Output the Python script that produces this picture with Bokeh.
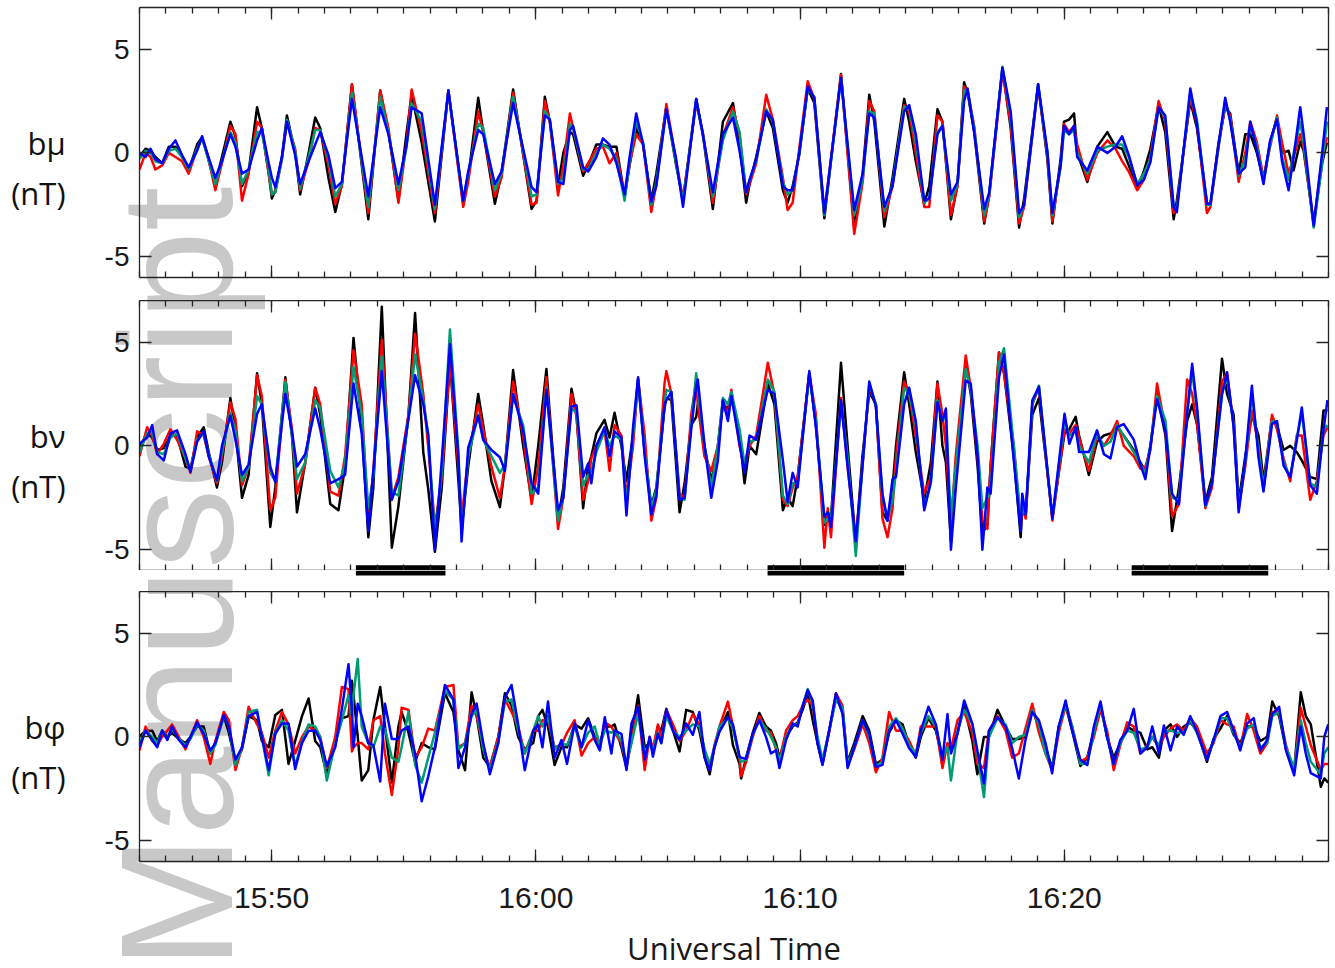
import math
from bokeh.plotting import figure
from bokeh.models import Range1d, FixedTicker, LinearAxis, Div
from bokeh.layouts import column
from bokeh.embed import file_html
from bokeh.resources import INLINE

# ---------------- data (time in minutes after 15:45 UT, field in nT) ----------------
t_mu = [
0.00, 0.23, 0.42, 0.60, 0.86, 1.11, 1.36, 1.61, 1.86, 2.18,
2.37, 2.56, 2.87, 3.12, 3.44, 3.63, 3.88, 4.13, 4.45, 4.63,
4.89, 5.01, 5.14, 5.39, 5.58, 5.89, 6.08, 6.40, 6.65, 6.84,
7.15, 7.41, 7.66, 8.04, 8.66, 9.11, 9.42, 9.80, 10.11, 10.30,
10.68, 11.18, 11.69, 12.25, 12.44, 12.82, 13.01, 13.45, 13.70, 14.14,
14.84, 15.03, 15.34, 15.53, 15.84, 16.04, 16.29, 16.41, 16.79, 16.98,
17.29, 17.54, 17.79, 18.05, 18.36, 18.55, 18.80, 19.06, 19.37, 19.56,
19.94, 20.31, 20.57, 21.07, 21.32, 21.70, 22.08, 22.46, 22.71, 22.96,
23.09, 23.34, 23.72, 23.97, 24.35, 24.53, 24.72, 24.97, 25.29, 25.54,
25.92, 26.55, 27.05, 27.37, 27.62, 27.81, 28.19, 28.50, 28.94, 29.13,
29.38, 29.70, 29.89, 30.20, 30.39, 30.71, 30.96, 31.21, 31.34, 31.59,
31.97, 32.16, 32.66, 32.97, 33.29, 33.48, 34.01, 34.36, 34.55, 34.86,
34.99, 35.18, 35.37, 35.49, 35.87, 36.25, 36.63, 36.94, 37.19, 37.44,
37.76, 38.01, 38.26, 38.57, 38.82, 39.14, 39.26, 39.77, 40.02, 40.40,
40.53, 40.84, 41.09, 41.28, 41.60, 41.85, 42.04, 42.29, 42.54, 42.79,
43.05, 43.24, 43.49, 43.68, 43.93, 44.06, 44.44, 44.76, 44.94]
bmu_black = [
-0.2, 0.2, 0.1, -0.2, -0.5, 0.3, 0.3, -0.2, -0.85, 0.4,
0.75, -0.1, -1.5, -0.2, 1.5, 0.8, -1.6, -0.9, 2.2, 1.2,
-1.0, -2.2, -1.8, -0.2, 1.8, 0.0, -2.0, 0.0, 1.7, 1.2,
-1.2, -2.85, -1.5, 3.3, -3.2, 3.0, 1.0, -2.3, 1.0, 2.8,
0.5, -3.3, 3.0, -2.4, -1.2, 2.65, 1.0, -2.45, -1.0, 3.05,
-2.7, -2.3, 2.7, 1.5, -1.6, 0.0, 1.0, 0.9, -1.1, -0.6,
0.4, 0.4, 0.3, 0.3, -2.1, -0.6, 1.2, 0.4, -2.3, -1.0,
2.2, -0.6, -2.3, 2.6, 0.9, -2.7, 1.5, 2.4, 0.4, -2.4,
-1.5, -0.2, 2.0, 1.2, -1.8, -2.4, -1.6, -0.1, 3.1, 2.4,
-3.15, 3.8, -3.6, -1.0, 2.8, 1.5, -3.55, -1.2, 2.6, 1.5,
-0.4, -2.45, -1.6, 2.1, 1.5, -3.2, -1.5, 3.4, 2.9, 1.0,
-3.4, -2.0, 4.1, 1.2, -3.6, -2.2, 3.3, -0.3, -3.4, -0.3,
1.5, 1.6, 1.9, 0.0, -1.4, 0.3, 1.0, 0.3, 0.2, -0.6,
-1.7, -0.9, 0.2, 2.3, 1.0, -3.2, -2.3, 2.5, 1.2, -2.4,
-2.5, 0.5, 2.2, 1.9, -1.0, 0.9, 0.9, 0.0, -1.3, 0.5,
1.7, 0.0, 0.1, -0.85, 0.55, 0.1, -3.4, -0.5, 0.5]
bmu_red = [
-0.8, 0.0, -0.2, -0.8, -0.6, 0.0, -0.2, -0.4, -1.0, 0.2,
0.7, 0.0, -1.8, -0.5, 1.3, 0.9, -2.3, -1.0, 1.5, 1.2,
-1.0, -2.0, -1.9, -0.3, 1.5, 0.2, -1.8, -0.4, 1.2, 1.1,
-0.6, -2.45, -1.6, 3.3, -2.9, 3.0, 1.2, -2.4, 0.5, 3.05,
1.0, -2.9, 3.0, -2.6, -1.4, 2.0, 1.0, -2.1, -1.2, 2.9,
-2.5, -2.4, 2.5, 1.5, -2.05, -0.6, 1.9, 1.2, -0.9, -0.5,
0.2, 0.3, -0.5, 0.0, -2.1, -0.5, 0.9, 0.4, -2.85, -1.5,
2.35, -0.4, -2.2, 2.4, 1.0, -2.4, 0.8, 2.2, 0.9, -2.0,
-1.5, -0.5, 2.8, 1.6, -1.2, -2.75, -2.4, 0.2, 3.45, 2.6,
-2.9, 3.75, -3.9, -1.4, 2.5, 2.0, -3.1, -1.6, 2.3, 2.0,
0.0, -2.6, -2.6, 1.8, 1.5, -3.0, -1.6, 3.2, 3.0, 1.3,
-3.3, -2.1, 3.9, 1.4, -3.4, -2.6, 3.2, -0.1, -3.3, -0.6,
1.4, 1.0, 1.3, 0.4, -1.3, 0.0, 0.6, 0.2, -0.4, -0.9,
-1.8, -1.3, -0.2, 2.5, 1.5, -2.9, -2.6, 2.7, 1.4, -2.9,
-2.6, 0.3, 2.3, 1.8, -1.4, 0.0, 1.5, 0.5, -1.2, 0.3,
1.8, 0.5, -1.0, -0.2, 0.9, 0.3, -3.5, -0.2, 0.75]
bmu_green = [
-0.3, 0.1, 0.0, -0.4, -0.5, 0.1, 0.2, -0.2, -0.8, 0.2,
0.7, -0.1, -1.5, -0.4, 1.0, 0.5, -1.5, -0.8, 1.0, 1.0,
-0.8, -2.0, -1.9, -0.3, 1.6, 0.1, -1.7, -0.2, 1.1, 1.1,
-0.3, -2.1, -1.5, 2.9, -2.6, 2.7, 1.0, -1.8, 0.3, 2.4,
1.5, -2.7, 3.0, -2.3, -1.0, 1.4, 1.2, -1.8, -1.0, 2.7,
-2.1, -2.0, 2.0, 1.6, -1.5, -1.2, 1.4, 1.2, -0.8, -0.8,
0.0, 0.4, 0.2, -0.3, -2.3, -0.4, 1.5, 0.5, -2.5, -1.4,
2.1, -0.5, -2.3, 2.5, 0.9, -2.1, 0.6, 2.0, 1.0, -1.9,
-1.3, -0.4, 2.1, 1.5, -1.4, -2.0, -1.8, 0.0, 3.1, 2.7,
-3.0, 3.6, -3.0, -1.3, 2.0, 1.9, -2.8, -1.5, 2.2, 2.2,
0.5, -2.4, -2.2, 1.0, 1.3, -2.3, -1.5, 3.0, 3.0, 1.2,
-3.0, -2.0, 4.15, 1.8, -3.1, -2.5, 3.3, 0.0, -3.0, -0.7,
1.1, 0.9, 1.1, 0.0, -1.0, 0.1, 0.3, 0.4, 0.4, -0.2,
-1.5, -1.0, -0.3, 2.2, 1.7, -2.6, -2.7, 2.9, 1.6, -2.5,
-2.5, 0.3, 2.5, 1.6, -1.1, -0.3, 1.3, 0.3, -1.4, 0.4,
1.7, -0.2, -1.3, 0.0, 1.5, 0.5, -3.6, -0.5, 1.5]
bmu_blue = [
0.0, -0.2, 0.2, -0.3, -0.5, 0.2, 0.6, -0.1, -0.7, 0.1,
0.8, 0.0, -1.2, -0.4, 0.9, 0.3, -1.0, -0.8, 0.6, 1.2,
-0.5, -1.2, -1.65, -0.2, 1.5, -0.1, -1.5, -0.4, 0.4, 1.0,
-0.1, -1.7, -1.4, 2.6, -2.1, 2.2, 0.9, -1.5, 0.4, 2.2,
1.9, -2.5, 3.0, -2.3, -0.9, 1.1, 0.9, -1.5, -0.9, 2.4,
-1.65, -1.9, 1.8, 1.6, -1.4, -1.5, 1.1, 1.3, -0.7, -0.9,
-0.2, 0.7, 0.4, -0.5, -2.0, -0.2, 1.9, 0.4, -2.35, -1.6,
2.1, -0.3, -2.6, 2.6, 0.9, -1.9, 0.9, 1.7, 0.1, -1.9,
-1.3, -0.3, 2.0, 1.6, -1.6, -1.8, -1.8, 0.0, 3.2, 2.65,
-2.9, 3.6, -2.75, -1.0, 1.9, 1.7, -2.6, -1.6, 2.0, 2.3,
0.9, -2.3, -2.2, 0.9, 1.3, -2.0, -1.4, 2.5, 3.1, 1.0,
-2.7, -1.9, 4.1, 2.0, -2.9, -2.5, 3.3, 0.1, -2.9, -0.6,
1.3, 0.9, 1.3, -0.2, -0.85, 0.3, 0.0, 0.3, 0.8, -0.1,
-1.55, -1.3, -0.45, 2.2, 1.8, -2.6, -2.85, 3.1, 1.4, -2.45,
-2.45, 0.4, 2.65, 1.5, -1.0, -0.7, 1.5, 0.1, -1.5, 0.6,
1.6, -0.4, -1.8, -0.2, 2.2, 0.9, -3.5, 0.0, 2.2]

t_nu = [
0.00, 0.29, 0.48, 0.67, 0.92, 1.17, 1.42, 1.74, 1.93, 2.18,
2.43, 2.62, 2.93, 3.12, 3.44, 3.63, 3.88, 4.13, 4.45, 4.63,
4.95, 5.14, 5.52, 5.77, 5.96, 6.27, 6.65, 6.84, 7.22, 7.53,
7.78, 8.10, 8.41, 8.66, 8.85, 9.17, 9.55, 9.80, 10.18, 10.43,
10.74, 10.93, 11.18, 11.44, 11.75, 12.07, 12.19, 12.44, 12.82, 13.01,
13.32, 13.64, 13.83, 14.14, 14.52, 14.84, 15.09, 15.40, 15.84, 16.04,
16.35, 16.54, 16.79, 16.98, 17.10, 17.29, 17.60, 17.79, 17.98, 18.24,
18.43, 18.68, 18.87, 19.12, 19.37, 19.56, 19.87, 19.94, 20.13, 20.44,
20.63, 20.88, 21.07, 21.13, 21.38, 21.64, 21.89, 22.08, 22.27, 22.40,
22.71, 22.90, 23.09, 23.34, 23.78, 24.03, 24.35, 24.53, 24.72, 24.91,
25.35, 25.60, 25.92, 26.05, 26.17, 26.55, 26.80, 27.11, 27.36, 27.62,
27.87, 28.12, 28.31, 28.50, 28.63, 28.94, 29.13, 29.38, 29.70, 29.95,
30.20, 30.39, 30.52, 30.71, 30.89, 31.27, 31.46, 31.72, 31.90, 32.09,
32.21, 32.53, 32.72, 33.09, 33.35, 33.41, 33.54, 33.79, 34.04, 34.55,
35.01, 35.19, 35.43, 35.56, 35.93, 36.24, 36.50, 36.75, 37.00, 37.25,
37.63, 37.88, 38.07, 38.26, 38.51, 38.83, 39.08, 39.34, 39.65, 39.84,
40.03, 40.34, 40.59, 40.97, 41.16, 41.41, 41.60, 41.85, 42.10, 42.35,
42.54, 42.86, 43.05, 43.30, 43.55, 43.80, 43.99, 44.31, 44.56, 44.81,
44.96]
bnu_black = [
-0.1, 0.6, 0.4, -0.2, -0.1, 0.5, 0.5, -1.0, -1.1, 0.4,
0.9, -0.3, -2.0, -0.8, 2.3, 0.8, -2.5, -1.4, 3.5, 2.0,
-3.9, -2.0, 3.3, 0.5, -3.2, -0.8, 2.8, 1.5, -2.8, -3.1,
-1.0, 5.2, 1.0, -4.4, -2.0, 6.7, -4.9, -2.9, 1.5, 6.4,
-0.3, -2.1, -5.1, -2.0, 4.1, -1.7, -4.0, -1.0, 2.5, 1.0,
-1.7, -2.95, -1.0, 3.65, 0.0, -2.6, 0.0, 3.7, -3.6, -2.0,
2.75, 1.5, -3.0, -1.0, -0.5, 0.6, 1.25, 0.4, 1.6, 0.0,
-1.7, 0.5, 3.2, -0.3, -2.9, -2.0, 1.8, 2.3, 2.2, -3.2,
-1.8, 1.0, 1.4, 2.0, 0.0, -1.7, 0.0, 2.0, 1.8, 2.4,
0.5, -1.8, 0.0, -0.4, 3.0, 2.0, -3.1, -2.5, -2.9, -1.5,
3.5, 1.0, -3.8, -3.2, -3.5, 4.0, 0.0, -4.7, -0.5, 2.6,
2.0, -3.2, -3.6, -2.0, 0.0, 3.55, 2.0, -0.3, -2.6, -0.8,
3.1, 0.0, -0.8, -4.6, -1.0, 3.9, 2.5, -1.0, -4.2, -3.8,
-1.0, 4.5, 3.5, -0.5, -4.4, -3.0, -3.3, 1.5, 2.3, -3.4,
0.6, 0.8, 1.4, 0.5, -1.4, 0.2, 0.5, 0.6, 0.9, 0.5,
-0.2, -0.8, -1.2, 0.0, 2.5, 0.5, -4.1, -2.0, 1.2, 2.0,
1.0, -2.7, -1.5, 4.2, 2.5, 1.5, -2.7, -0.5, 1.5, 0.5,
-1.7, 1.3, 1.0, -0.2, 0.0, -0.3, -0.7, -1.5, -1.6, 1.7,
1.7]
bnu_red = [
-0.5, 0.9, 0.5, -0.4, 0.1, 0.8, 0.3, -0.6, -1.3, 0.7,
0.5, -0.5, -1.8, -0.5, 2.1, 1.3, -1.9, -1.0, 3.4, 2.4,
-3.1, -2.5, 3.2, 0.8, -2.3, -0.9, 2.8, 2.0, -2.2, -2.4,
-0.5, 4.6, 2.0, -3.7, -1.2, 5.1, -2.5, -1.5, 1.5, 5.4,
2.5, -0.1, -3.9, -1.5, 4.1, -1.0, -3.5, -0.5, 2.0, 0.8,
-1.0, -2.5, -1.0, 3.1, 0.5, -2.8, -1.0, 3.3, -4.0, -2.5,
2.5, 1.4, -2.6, -1.7, -0.6, 0.0, 0.8, -1.2, 1.0, 0.5,
-2.5, 0.0, 3.2, 0.5, -3.6, -2.5, 3.0, 3.6, 2.5, -2.3,
-2.5, 1.5, 3.1, 2.0, -0.5, -1.2, 0.0, 2.2, 1.5, 2.7,
0.0, -1.0, 0.0, 0.5, 4.0, 2.5, -2.6, -2.9, -2.0, -1.5,
3.5, 1.5, -4.9, -3.0, -4.4, 2.3, -1.0, -4.6, -1.0, 2.9,
2.0, -3.5, -4.4, -3.0, -0.5, 3.1, 2.5, 0.5, -2.3, -1.5,
3.0, 1.5, 0.0, -4.0, -0.5, 4.35, 2.8, -0.5, -3.6, -4.0,
-1.0, 4.5, 3.5, 0.0, -3.8, -3.0, -3.5, 2.0, 2.8, -3.6,
0.8, 0.6, 1.0, 0.4, -1.2, 0.5, 0.0, 0.5, 1.2, 0.0,
-0.5, -1.1, -1.0, -0.2, 3.0, 0.8, -3.4, -2.8, 3.2, 2.5,
1.0, -3.0, -2.0, 3.1, 3.5, 1.0, -3.0, -1.0, 1.7, 0.0,
-2.1, 1.5, 0.8, -0.6, -1.7, 0.5, 0.5, -2.6, -1.7, 0.5,
0.9]
bnu_green = [
-0.3, 0.6, 0.7, -0.3, -0.4, 0.4, 0.6, -0.6, -1.2, 0.3,
0.6, -0.4, -1.7, -0.3, 1.6, 0.7, -1.7, -1.0, 2.4, 2.0,
-1.3, -1.7, 3.1, 0.5, -1.6, -0.8, 2.2, 1.8, -1.2, -2.0,
-0.8, 3.8, 1.5, -3.0, -1.5, 4.3, -2.2, -2.4, 1.4, 4.4,
2.2, 0.5, -4.3, -1.3, 5.6, -0.3, -4.2, -0.5, 1.5, 0.3,
-0.5, -1.3, -0.9, 2.4, 1.0, -2.3, -2.0, 2.8, -3.6, -2.4,
1.8, 1.6, -1.9, -1.4, -1.2, -0.3, 0.7, 0.0, 0.5, 0.3,
-2.8, 0.5, 3.2, -0.3, -3.0, -2.1, 2.0, 2.7, 2.6, -2.5,
-2.6, 1.0, 3.5, 2.7, 0.0, -2.0, 0.0, 2.3, 2.0, 2.6,
0.8, -0.9, 0.2, 0.3, 3.2, 2.6, -2.4, -2.8, -1.8, -1.8,
3.4, 1.2, -3.7, -3.5, -3.5, 2.0, -0.5, -5.3, -1.0, 3.0,
2.0, -2.5, -3.5, -2.6, -1.3, 2.8, 2.5, 1.0, -3.0, -1.8,
2.2, 1.2, 1.5, -3.5, -1.0, 3.7, 2.7, 0.0, -3.0, -2.5,
-2.2, 4.0, 4.7, 0.0, -3.5, -3.0, -3.3, 2.0, 2.9, -3.5,
1.3, 0.5, 0.7, 0.0, -0.8, 0.6, 0.0, 0.2, 1.0, 0.5,
-0.3, -0.9, -1.3, 0.0, 2.4, 1.2, -2.5, -2.6, 1.6, 3.6,
1.6, -2.9, -1.8, 2.5, 3.3, 1.0, -3.0, -0.8, 2.5, -0.2,
-2.0, 1.2, 1.1, -0.8, -1.5, 0.4, 1.6, -1.8, -2.0, 0.8,
1.0]
bnu_blue = [
0.1, 0.4, 1.0, -0.4, -0.7, 0.6, 0.75, -0.4, -1.25, 0.2,
0.7, -0.5, -1.65, 0.0, 1.45, 0.3, -1.4, -0.9, 1.55, 2.0,
-1.0, -1.75, 2.5, 0.7, -1.0, -0.4, 1.8, 0.8, -1.8, -1.6,
-1.4, 3.0, 0.6, -4.1, -1.2, 3.6, -2.6, -1.7, 1.3, 3.4,
2.0, 0.5, -5.0, -0.7, 4.9, -0.55, -4.6, -0.1, 1.45, 0.3,
-0.2, -0.55, -1.2, 2.5, 0.75, -1.8, -2.3, 2.7, -3.1, -2.5,
1.9, 1.95, -1.5, -0.85, -1.8, 0.0, 0.9, -0.5, 0.7, 0.4,
-3.35, 0.9, 3.3, -0.5, -3.3, -2.4, 2.0, 2.2, 2.6, -2.6,
-2.5, 0.8, 2.9, 3.2, 0.1, -2.5, -0.7, 2.2, 1.2, 2.4,
0.1, -1.3, 0.5, 0.3, 2.7, 2.5, -0.7, -2.7, -1.3, -2.0,
3.6, 0.9, -3.4, -3.2, -3.9, 2.2, -1.0, -4.6, -1.0, 3.1,
1.9, -2.3, -3.6, -1.6, -1.5, 2.0, 2.8, 1.2, -3.1, -1.7,
2.1, 1.2, 1.8, -5.0, -2.1, 3.15, 3.0, -0.5, -5.0, -2.0,
-2.3, 3.3, 4.4, -0.7, -4.1, -2.3, -3.3, 2.2, 2.85, -3.5,
1.55, 0.1, 0.9, -0.3, -0.3, 0.75, -0.4, -0.6, 0.9, 1.05,
0.3, -0.9, -1.6, -0.05, 2.25, 0.75, -2.3, -2.8, 1.55, 3.95,
1.8, -2.85, -1.8, 2.5, 3.55, 0.9, -3.2, -0.7, 2.9, -0.55,
-2.2, 1.05, 1.2, -0.95, -1.5, 0.25, 1.85, -1.9, -2.3, 0.75,
2.2]

t_phi = [
0.00, 0.23, 0.48, 0.67, 0.86, 1.05, 1.23, 1.49, 1.74, 1.93,
2.18, 2.43, 2.68, 2.87, 3.19, 3.38, 3.63, 3.88, 4.13, 4.45,
4.63, 4.89, 5.14, 5.39, 5.64, 5.89, 6.15, 6.40, 6.65, 6.84,
7.09, 7.41, 7.66, 7.91, 8.04, 8.10, 8.26, 8.41, 8.66, 8.85,
9.11, 9.29, 9.55, 9.80, 9.92, 10.18, 10.43, 10.68, 10.93, 11.18,
11.56, 11.88, 12.07, 12.32, 12.57, 12.76, 13.01, 13.26, 13.58, 13.83,
14.08, 14.33, 14.58, 14.90, 15.09, 15.25, 15.46, 15.71, 15.97, 16.18,
16.47, 16.73, 16.98, 17.23, 17.42, 17.61, 17.86, 17.98, 18.24, 18.43,
18.62, 18.87, 19.12, 19.31, 19.43, 19.62, 19.75, 19.94, 20.19, 20.44,
20.69, 20.94, 21.19, 21.39, 21.58, 21.76, 21.95, 22.27, 22.46, 22.71,
22.77, 22.96, 23.21, 23.46, 23.71, 23.90, 24.09, 24.22, 24.47, 24.72,
24.91, 25.10, 25.29, 25.48, 25.66, 25.85, 26.10, 26.36, 26.61, 26.80,
27.05, 27.37, 27.62, 27.87, 28.12, 28.37, 28.63, 28.88, 29.13, 29.38,
29.57, 29.86, 30.14, 30.39, 30.58, 30.71, 30.96, 31.21, 31.52, 31.71,
31.96, 32.15, 32.47, 32.78, 33.03, 33.28, 33.53, 33.79, 34.04, 34.29,
34.54, 34.79, 35.05, 35.30, 35.61, 35.87, 36.12, 36.37, 36.62, 36.87,
37.12, 37.38, 37.63, 37.88, 38.14, 38.33, 38.58, 38.77, 39.02, 39.27,
39.52, 39.77, 40.02, 40.40, 40.65, 40.91, 41.16, 41.41, 41.66, 41.92,
42.17, 42.42, 42.68, 42.87, 43.13, 43.39, 43.70, 43.95, 44.14, 44.33,
44.71, 44.84, 44.99]
bphi_black = [
0.0, 0.3, 0.3, -0.2, 0.3, 0.0, 0.2, -0.1, -0.3, 0.0,
0.5, 0.5, -0.8, -0.3, 1.0, 0.2, -1.2, -0.6, 1.0, 0.8,
-0.2, -0.5, 1.05, 1.3, -1.3, -0.2, 1.0, 1.85, -0.2, -0.5,
-1.8, -0.3, 0.9, 1.0, 2.7, 2.0, 0.0, -2.1, -1.6, 0.8,
2.4, 0.5, -2.2, 0.5, 1.2, 0.2, -1.2, -0.3, -0.5, -0.6,
2.1, 1.2, -0.65, -1.6, 2.15, 1.0, -1.0, -1.45, 0.0, 2.1,
1.5, 0.0, -0.6, -0.3, 1.0, 1.3, 0.5, -1.35, -0.5, -0.5,
0.6, 0.4, 0.9, 0.0, -0.3, 0.5, 0.5, 0.6, -0.5, -1.5,
0.0, 2.0, -0.5, -0.3, -0.7, 0.5, 0.3, 1.35, 0.3, -0.7,
1.3, 1.2, 0.3, -1.0, -1.8, -0.5, 0.3, 1.2, -0.4, -1.3,
-2.0, -1.0, 0.2, 1.15, 0.5, 0.3, -0.3, -1.0, 0.0, 0.5,
0.7, 1.3, 2.1, 0.8, -0.3, -1.3, 0.3, 1.9, 1.2, -1.2,
-0.3, 1.0, 0.3, -1.3, -1.1, 0.2, 0.8, 0.6, -0.4, -1.0,
0.0, 0.9, 0.3, -1.0, -0.5, -0.6, 0.2, 1.5, -0.2, -1.8,
0.0, 0.0, 1.3, 0.5, -0.1, -0.1, 0.0, 1.3, 0.5, -0.5,
-1.5, 0.5, 1.5, 0.3, -1.4, -1.0, 0.3, 1.5, 0.0, -1.0,
-0.3, 0.5, 0.3, 0.2, -0.6, -0.5, -1.0, 0.3, 0.6, 0.0,
0.5, 0.7, 0.3, -1.2, -0.1, 0.4, 1.0, 0.1, -0.3, 0.5,
0.5, -0.2, 0.0, 1.7, 1.0, -0.6, -1.6, 2.15, 1.0, 0.6,
-2.4, -2.0, -2.2]
bphi_red = [
-0.65, 0.5, -0.2, -0.4, 0.0, 0.3, 0.6, 0.0, -0.6, 0.0,
0.8, 0.0, -1.3, -0.2, 1.2, 0.8, -1.6, -0.5, 1.45, 0.6,
0.2, -1.0, 0.3, 1.2, 0.6, -0.8, 0.0, 0.5, 0.3, 0.0,
-1.5, 0.0, 2.4, 2.3, -0.7, -0.5, -0.3, -0.3, -0.6, 0.8,
1.0, -0.8, -2.8, -0.5, 1.4, 1.3, -1.0, -0.5, 0.4, 0.3,
2.4, 2.5, -0.5, -0.3, 1.5, 1.0, -0.5, -1.5, 0.0, 1.8,
1.2, 0.5, -0.8, 0.3, 0.3, 0.8, 0.8, -0.5, -0.4, 0.2,
0.8, -0.9, -0.3, 0.0, -0.6, 0.7, 0.5, 0.2, -0.3, -1.4,
-0.2, 1.5, -1.6, 0.0, -0.6, 0.6, 0.0, 1.3, 0.6, -0.2,
0.3, 1.1, 0.6, -0.7, -1.6, -0.4, 0.5, 1.7, 0.5, -1.0,
-1.9, -1.2, 0.0, 1.0, 0.3, 0.2, -0.6, -1.1, 0.3, 0.8,
1.0, 1.5, 1.8, 1.5, -0.2, -1.2, 0.2, 2.1, 1.5, -1.4,
-0.6, 0.6, -0.3, -1.7, -1.0, 1.2, 0.3, 0.3, -0.2, -0.9,
0.5, 0.5, 0.5, -1.5, -0.3, -0.6, 0.8, 1.2, 0.2, -1.3,
-1.5, 0.3, 1.0, 0.3, -1.0, -0.8, 0.4, 1.6, 0.2, -0.8,
-1.6, 0.2, 1.5, 0.5, -1.2, -1.0, 0.0, 1.3, 0.3, -1.6,
-0.4, 0.7, 0.5, -0.8, -0.4, 0.0, -0.5, 0.0, 0.4, 0.6,
0.3, 0.9, 0.5, -0.8, -0.3, 0.8, 0.6, 0.5, -0.6, 1.1,
0.3, -0.8, -0.3, 1.2, 1.2, -0.4, -1.7, 1.4, 0.5, -0.4,
-1.6, -1.3, -1.3]
bphi_green = [
-0.3, 0.3, 0.0, -0.3, 0.3, -0.1, 0.4, -0.1, -0.4, -0.1,
0.6, 0.3, -0.8, -0.4, 1.0, 0.5, -1.35, -0.5, 1.2, 1.3,
0.0, -1.85, 0.2, 0.8, 0.3, -1.4, -0.2, 0.6, 0.5, 0.0,
-2.1, -0.3, 0.8, 2.0, 1.0, 2.0, 3.75, 0.5, -0.3, -0.5,
0.5, 0.4, -1.0, -1.2, -0.5, 1.2, -1.35, -2.2, -1.0, 0.2,
2.2, 1.8, -0.6, -0.3, 1.0, 1.3, -0.6, -1.6, -0.2, 1.7,
1.8, 0.3, -0.8, 0.3, 1.0, 0.5, 1.0, -0.6, -0.3, -0.4,
0.5, -0.5, 0.2, 0.5, -0.4, 0.3, 0.2, 0.3, -0.2, -1.3,
-0.3, 1.1, -0.8, -0.3, -0.6, 0.2, -0.3, 1.0, 0.3, 0.0,
0.3, 0.6, 0.5, -0.6, -1.3, -0.5, 0.5, 0.9, 0.4, -1.0,
-1.2, -1.1, 0.1, 0.8, 0.4, 0.0, -0.5, -1.2, 0.0, 0.6,
0.6, 1.5, 2.3, 1.6, 0.0, -1.1, 0.3, 1.8, 1.4, -1.3,
-0.5, 0.8, 0.0, -1.4, -1.2, 0.5, 0.9, 0.4, -0.4, -0.8,
0.2, 1.0, 0.5, -1.0, -0.5, -2.1, 0.3, 1.3, 0.6, -0.8,
-2.9, 0.0, 0.9, 0.6, -0.3, 0.0, 0.1, 1.3, 0.6, -0.8,
-1.5, 0.4, 1.6, 0.5, -1.3, -1.3, 0.2, 1.6, 0.0, -1.3,
-0.3, 0.3, 0.2, -0.6, -0.5, 0.0, -0.4, 0.3, 0.3, 0.2,
0.2, 0.8, 0.2, -1.1, -0.2, 0.9, 0.9, 0.2, -0.5, 0.4,
0.6, -0.5, -0.3, 1.0, 1.2, -0.5, -1.5, 0.8, -0.3, -1.2,
-1.8, -0.8, -0.5]
bphi_blue = [
-0.5, 0.3, -0.15, -0.5, 0.3, -0.15, 0.5, -0.15, -0.5, 0.0,
0.7, 0.15, -0.65, -0.3, 1.05, 0.5, -1.1, -0.5, 1.0, 1.2,
0.0, -1.6, 0.15, 0.65, 0.65, -1.55, -0.3, 0.3, 0.3, -0.15,
-1.4, -0.5, 1.35, 3.5, 1.3, -0.5, 1.6, 1.0, -0.3, -0.4,
-2.15, 1.6, -0.1, -0.1, 0.3, 0.5, -0.8, -3.1, -1.9, -0.5,
2.5, 1.8, -1.5, -0.5, 1.1, 1.6, -0.3, -1.8, -0.3, 1.9,
2.5, 0.6, -1.6, 0.3, 0.6, -0.5, 1.7, -1.0, -0.15, -1.3,
0.65, -0.5, 0.8, -0.15, -0.65, 0.95, -0.8, 0.3, 0.15, -1.6,
0.65, 1.45, -1.1, 0.0, -0.95, 0.15, -0.3, 1.3, 0.3, -0.15,
0.65, 0.1, 1.2, -1.0, -1.6, -0.5, 0.25, 0.95, 0.6, -0.95,
-1.0, -1.05, 0.15, 0.8, 0.0, -0.8, -0.65, -1.5, -0.15, 0.65,
0.5, 1.5, 2.25, 1.75, -0.3, -1.35, 0.3, 2.1, 1.1, -1.5,
-0.5, 0.8, 0.15, -1.45, -1.35, 0.3, 0.8, 0.15, -0.55, -0.95,
0.3, 1.45, 0.6, -1.1, 1.1, -0.8, 0.15, 1.75, 0.65, -0.65,
-2.25, 0.3, 0.95, 0.5, -0.55, -2.0, -0.15, 1.2, 0.8, -0.3,
-1.75, 0.5, 1.75, 0.3, -1.1, -1.35, 0.5, 1.7, 0.0, -1.3,
-0.15, 0.3, 1.35, -0.8, -0.5, 0.5, -0.8, 0.55, -0.65, 0.5,
0.1, 1.0, 0.25, -1.1, -0.15, 1.0, 1.2, 0.3, -0.65, 0.65,
0.9, -0.65, -0.15, 1.1, 1.45, -0.65, -1.85, 0.5, -0.8, -1.75,
-2.0, 0.0, 0.6]

# marked intervals (minutes after 15:45)
bar_start = [8.19, 23.77, 37.55]
bar_end = [11.58, 28.94, 42.72]

tick_minutes = [5, 15, 25, 35]
tick_labels = ["15:50", "16:00", "16:10", "16:20"]
panel_labels = ["\nb\u03bc\n(nT)", "\nb\u03bd\n(nT)", "\nb\u03c6\n(nT)"]
series_colors = ["#000000", "#ff0000", "#009b72", "#0000ff"]

# ---------------- layout ----------------
FRAME_W, FRAME_H = 1189, 270
LEFT, RIGHT, TOP, GAP, BOTTOM = 139, 6, 7, 23, 100
BAR_H = 21
X0, X1 = 0.0, 45.0
Y0, Y1 = -6.0, 7.0
AX_COLOR = "#262626"
MINOR = list(range(0, 46))


def style_axis(ax, labels):
    ax.axis_line_color = AX_COLOR
    ax.axis_line_width = 1.3
    ax.major_tick_line_color = AX_COLOR
    ax.minor_tick_line_color = AX_COLOR
    ax.major_tick_line_width = 1.3
    ax.minor_tick_line_width = 1.3
    ax.major_tick_out = 0
    ax.minor_tick_out = 0
    if not labels:
        ax.major_label_text_font_size = "1px"
        ax.major_label_text_color = None
        ax.major_label_standoff = 0


def make_panel(i, t, ys, last, top_border, bottom_border):
    p = figure(frame_width=FRAME_W, frame_height=FRAME_H,
               x_range=Range1d(X0, X1), y_range=Range1d(Y0, Y1),
               output_backend="svg", toolbar_location=None,
               min_border_left=LEFT, min_border_right=RIGHT,
               min_border_top=top_border, min_border_bottom=bottom_border)
    p.outline_line_color = None
    p.background_fill_color = None
    p.border_fill_color = None
    p.xgrid.visible = False
    p.ygrid.visible = False

    xa = p.xaxis[0]
    xa.ticker = FixedTicker(ticks=tick_minutes, minor_ticks=MINOR)
    xa.major_label_overrides = {m: s for m, s in zip(tick_minutes, tick_labels)}
    style_axis(xa, last)
    xa.major_tick_in = 12
    xa.minor_tick_in = 6
    if last:
        xa.major_label_text_font = "Liberation Sans"
        xa.major_label_text_font_size = "30px"
        xa.major_label_text_color = "#1a1a1a"
        xa.major_label_standoff = 19
        xa.axis_label = "Universal Time"
        xa.axis_label_text_font = "Open Sans"
        xa.axis_label_text_font_size = "31px"
        xa.axis_label_text_font_style = "normal"
        xa.axis_label_text_color = "#1a1a1a"
        xa.axis_label_standoff = 10

    ya = p.yaxis[0]
    ya.ticker = FixedTicker(ticks=[-5, 0, 5], minor_ticks=[])
    ya.major_label_overrides = {-5: "-5", 0: "0", 5: "5"}
    style_axis(ya, True)
    ya.major_tick_in = 12
    ya.minor_tick_line_color = None
    ya.major_label_text_font = "Liberation Sans"
    ya.major_label_text_font_size = "28px"
    ya.major_label_text_color = "#1a1a1a"
    ya.major_label_standoff = 10
    ya.axis_label = panel_labels[i]
    ya.axis_label_orientation = "horizontal"
    ya.axis_label_text_font = "Open Sans"
    ya.axis_label_text_font_size = "31px"
    ya.axis_label_text_font_style = "normal"
    ya.axis_label_text_color = "#111111"
    ya.axis_label_standoff = 36

    ta = LinearAxis(ticker=FixedTicker(ticks=tick_minutes, minor_ticks=MINOR))
    style_axis(ta, False)
    ta.major_tick_in = 12
    ta.minor_tick_in = 6
    p.add_layout(ta, "above")
    ra = LinearAxis(ticker=FixedTicker(ticks=[-5, 0, 5], minor_ticks=[]))
    style_axis(ra, False)
    ra.major_tick_in = 12
    ra.minor_tick_line_color = None
    p.add_layout(ra, "right")

    for y, c in zip(ys, series_colors):
        p.line(t, y, line_color=c, line_width=2.5, line_join="round")
    return p


p1 = make_panel(0, t_mu, [bmu_black, bmu_red, bmu_green, bmu_blue], False, TOP, GAP)
p2 = make_panel(1, t_nu, [bnu_black, bnu_red, bnu_green, bnu_blue], False, 0, 0)
p3 = make_panel(2, t_phi, [bphi_black, bphi_red, bphi_green, bphi_blue], True, 0, BOTTOM)

# upper half of the interval bars, inside the bν frame
p2.quad(left=bar_start, right=bar_end, bottom=Y0, top=Y0 + 0.25,
        fill_color="black", line_color=None)

# thin strip under the bν panel holding the lower half of the bars
strip = figure(frame_width=FRAME_W, frame_height=BAR_H,
               x_range=p2.x_range, y_range=Range1d(0, BAR_H),
               x_axis_type=None, y_axis_type=None,
               output_backend="svg", toolbar_location=None,
               min_border_left=LEFT, min_border_right=RIGHT,
               min_border_top=0, min_border_bottom=0)
strip.outline_line_color = None
strip.background_fill_color = None
strip.border_fill_color = None
strip.xgrid.visible = False
strip.ygrid.visible = False
strip.quad(left=bar_start, right=bar_end, bottom=BAR_H - 5, top=BAR_H,
           fill_color="black", line_color=None)

# watermark text behind the (transparent) plots
WM_SIZE = 160
wm_style = ("position:absolute; left:0; top:0; transform-origin:0 0; "
            "transform:rotate(-90deg); font-family:'Liberation Sans'; "
            f"font-size:{WM_SIZE}px; line-height:{WM_SIZE}px; white-space:nowrap; "
            "color:#c8c8c8;")
watermark = Div(text=f'<div style="{wm_style}">Manuscript</div>',
                styles={"position": "absolute", "left": "92px", "top": "964px",
                        "z-index": "-1", "overflow": "visible"},
                width=1, height=1)

layout = column(watermark, p1, p2, strip, p3, spacing=0)
open("out.html", "w").write(file_html(layout, INLINE))
